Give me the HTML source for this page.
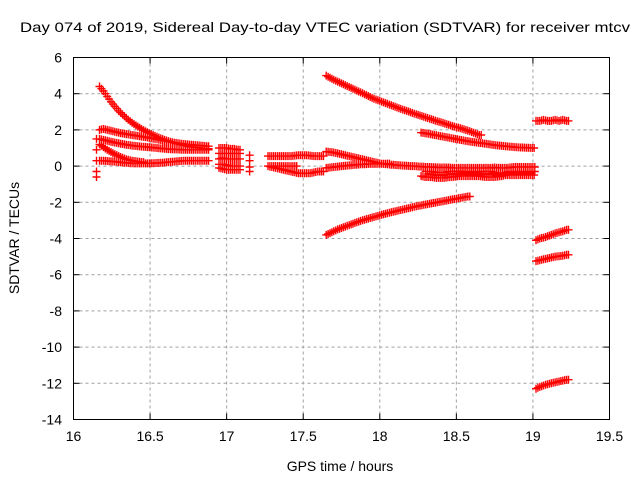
<!DOCTYPE html>
<html><head><meta charset="utf-8"><style>
body{margin:0;background:#fff}
svg{display:block;font-family:"Liberation Sans",sans-serif}
</style></head><body>
<svg id="chart" width="640" height="480" viewBox="0 0 640 480">
<rect x="0" y="0" width="640" height="480" fill="#fff"/>
<text x="325" y="32" text-anchor="middle" font-size="14" textLength="610" lengthAdjust="spacingAndGlyphs">Day 074 of 2019, Sidereal Day-to-day VTEC variation (SDTVAR) for receiver mtcv</text>
<text x="340" y="471" text-anchor="middle" font-size="14">GPS time / hours</text>
<text transform="translate(19,238) rotate(-90)" text-anchor="middle" font-size="14">SDTVAR / TECUs</text>
<g id="grid"></g>
<g id="marks"></g>
<rect x="73.5" y="57.5" width="536" height="362" fill="none" stroke="#000" stroke-width="1"/>
<g id="ticks"></g>
</svg>
<script>
const xTicks=[16,16.5,17,17.5,18,18.5,19,19.5];
const yTicks=[6,4,2,0,-2,-4,-6,-8,-10,-12,-14];
const step=0.025;
const trackStarts=[16.17,16.17,16.17,16.17,16.17,17.65,18.27,19.02,17.65,17.65,18.27,18.3,17.65,19.02,19.02,19.02,17.27,17.27,17.27,16.95,16.95,16.95,16.95,16.95];
const trackA=[4.4,4.15,3.85,3.55,3.3,3.05,2.85,2.65,2.48,2.32,2.18,2.05,1.93,1.82,1.72,1.62,1.53,1.45,1.38,1.31,1.25,1.2,1.15,1.1,1.06,1.03,1.0,0.98,0.96];
const trackB=[2.0,2.05,2.0,1.95,1.9,1.85,1.8,1.77,1.73,1.7,1.67,1.63,1.6,1.56,1.52,1.48,1.44,1.4,1.36,1.32,1.28,1.25,1.22,1.2,1.18,1.16,1.14,1.12,1.1];
const trackC=[1.5,1.45,1.4,1.35,1.3,1.26,1.22,1.18,1.15,1.12,1.1,1.08,1.06,1.04,1.02,1.0,0.98,0.96,0.94,0.93,0.92,0.91,0.9,0.9,0.9,0.9,0.9,0.9,0.9];
const trackD=[1.2,1.05,0.9,0.78,0.66,0.55,0.46,0.38,0.32,0.28,0.25,0.22];
const trackE=[0.3,0.3,0.28,0.26,0.25,0.22,0.2,0.18,0.16,0.15,0.15,0.15,0.15,0.15,0.16,0.17,0.18,0.2,0.22,0.24,0.26,0.28,0.3,0.3,0.3,0.3,0.3,0.3,0.3];
const trackTop=[5.0,4.88,4.77,4.67,4.57,4.47,4.37,4.27,4.17,4.07,3.97,3.87,3.77,3.68,3.6,3.52,3.44,3.36,3.28,3.2,3.12,3.05,2.98,2.9,2.83,2.76,2.69,2.62,2.55,2.48,2.42,2.35,2.28,2.21,2.15,2.1,2.03,1.96,1.88,1.8,1.72];
const trackTop2=[1.85,1.82,1.78,1.74,1.7,1.66,1.62,1.58,1.54,1.5,1.46,1.42,1.38,1.35,1.32,1.29,1.26,1.23,1.2,1.17,1.14,1.12,1.1,1.08,1.06,1.04,1.03,1.02,1.01,1.0];
const trackRightTop=[2.5,2.5,2.55,2.5,2.5,2.55,2.5,2.55,2.5];
const trackMid1=[0.8,0.78,0.75,0.7,0.65,0.6,0.55,0.5,0.45,0.4,0.35,0.3,0.25,0.2,0.15,0.12,0.1,0.08,0.06,0.05,0.03,0.02,0.0,0.0,-0.02,-0.03,-0.05,-0.05,-0.06,-0.07,-0.08,-0.08,-0.08,-0.1,-0.1,-0.1,-0.1,-0.1,-0.1,-0.1,-0.1,-0.1,-0.1,-0.1,-0.08,-0.1,-0.1,-0.1,-0.08,-0.05,-0.05,-0.05,-0.05,-0.05,-0.05];
const trackMid2=[-0.1,-0.08,-0.05,-0.03,0,0.02,0.04,0.06,0.08,0.1,0.1,0.12,0.12,0.12,0.13,0.13,0.14];
const trackMid3=[-0.55,-0.6,-0.6,-0.62,-0.65,-0.65,-0.65,-0.62,-0.6,-0.58,-0.55,-0.55,-0.55,-0.55,-0.55,-0.55,-0.58,-0.6,-0.6,-0.6,-0.58,-0.55,-0.5,-0.5,-0.5,-0.5,-0.5,-0.5,-0.5,-0.5];
const trackMid4=[-0.3,-0.3,-0.32,-0.35,-0.35,-0.35,-0.3,-0.3,-0.28,-0.28,-0.3,-0.3,-0.3,-0.32,-0.3,-0.3,-0.3,-0.3,-0.35,-0.4,-0.4,-0.35,-0.3,-0.3,-0.3,-0.3,-0.3,-0.3,-0.3];
const trackLow=[-3.8,-3.7,-3.6,-3.5,-3.42,-3.34,-3.26,-3.18,-3.1,-3.03,-2.96,-2.9,-2.84,-2.78,-2.72,-2.66,-2.6,-2.55,-2.5,-2.45,-2.4,-2.35,-2.3,-2.25,-2.2,-2.16,-2.12,-2.08,-2.04,-2.0,-1.96,-1.92,-1.88,-1.84,-1.8,-1.76,-1.72,-1.68];
const trackR1=[-4.1,-4.0,-3.95,-3.88,-3.8,-3.72,-3.66,-3.6,-3.52];
const trackR2=[-5.25,-5.2,-5.15,-5.1,-5.05,-5.0,-4.98,-4.95,-4.9];
const trackR3=[-12.3,-12.2,-12.12,-12.05,-12.0,-11.95,-11.9,-11.85,-11.8];
const trackS1=[0.55,0.55,0.55,0.55,0.55,0.55,0.55,0.58,0.6,0.6,0.6,0.58,0.55,0.55,0.55];
const trackS2=[0.0,-0.05,-0.1,-0.15,-0.2,-0.25,-0.3,-0.35,-0.4,-0.4,-0.4,-0.4,-0.35,-0.3,-0.3];
const trackS3=[0.0,0.0,0.0,0.0,0.0,0.0,0.0,0.0];
const trackK1=[1.0,1.0,1.0,0.95,0.95,0.9];
const trackK2=[0.7,0.7,0.7,0.7,0.7,0.7];
const trackK3=[0.4,0.45,0.4,0.4,0.4,0.4];
const trackK4=[0.1,0.1,0.05,0.0,0.0,0.0];
const trackK5=[-0.1,-0.15,-0.2,-0.2,-0.2,-0.2];
const scatterT=[16.15,16.15,16.15,16.15,16.15,17.15,17.15,17.15,17.15];
const scatterV=[0.9,0.3,-0.3,-0.6,1.5,0.6,0.3,-0.05,-0.3];
const tracks=[trackA,trackB,trackC,trackD,trackE,trackTop,trackTop2,trackRightTop,trackMid1,trackMid2,trackMid3,trackMid4,trackLow,trackR1,trackR2,trackR3,trackS1,trackS2,trackS3,trackK1,trackK2,trackK3,trackK4,trackK5];

const NS="http://www.w3.org/2000/svg";
const X0=73.5,X1=609.5,Y0=419.5,Y1=57.5;
function xs(t){return X0+(t-16)/(19.5-16)*(X1-X0);}
function ys(v){return Y0-(v+14)/20*(Y0-Y1);}
const grid=document.getElementById('grid'),ticks=document.getElementById('ticks'),marks=document.getElementById('marks');
function mk(tag,attrs,parent){const e=document.createElementNS(NS,tag);for(const k in attrs)e.setAttribute(k,attrs[k]);parent.appendChild(e);return e;}
xTicks.forEach(t=>{
  const x=xs(t);
  if(t>16&&t<19.5){const g=mk('line',{x1:x,x2:x,y1:Y1,y2:Y0,stroke:'#a0a0a0','stroke-dasharray':'3,3'},grid);
  
  }
  mk('line',{x1:x,x2:x,y1:Y0,y2:Y0-6,stroke:'#000'},ticks);
  mk('line',{x1:x,x2:x,y1:Y1,y2:Y1+6,stroke:'#000'},ticks);
  const l=mk('text',{x:x,y:441,'text-anchor':'middle','font-size':'14'},ticks);
  l.textContent=String(t);
  
  
});
yTicks.forEach(v=>{
  const y=ys(v);
  if(v>-14&&v<6){const g=mk('line',{x1:X0,x2:X1,y1:y,y2:y,stroke:'#a0a0a0','stroke-dasharray':'3,3'},grid);
  
  }
  mk('line',{x1:X0,x2:X0+6,y1:y,y2:y,stroke:'#000'},ticks);
  mk('line',{x1:X1,x2:X1-6,y1:y,y2:y,stroke:'#000'},ticks);
  const l=mk('text',{x:62,y:y+5,'text-anchor':'end','font-size':'14'},ticks);
  l.textContent=String(v);
  
  
});
let d='';
function plus(t,v){const x=xs(t),y=ys(v);d+=`M${(x-4).toFixed(1)} ${y.toFixed(1)}h8M${x.toFixed(1)} ${(y-4).toFixed(1)}v8`;}
tracks.forEach((tr,i)=>{tr.forEach((v,j)=>plus(trackStarts[i]+j*step,v));
  tr.forEach((v,j)=>plus(trackStarts[i]+j*step+step/2,(v+(j+1<tr.length?tr[j+1]:v))/2));});
scatterT.forEach((t,i)=>plus(t,scatterV[i]));
const p=mk('path',{d:d,stroke:'#ff0000','stroke-width':'1.4',fill:'none'},marks);


</script>
</body></html>
